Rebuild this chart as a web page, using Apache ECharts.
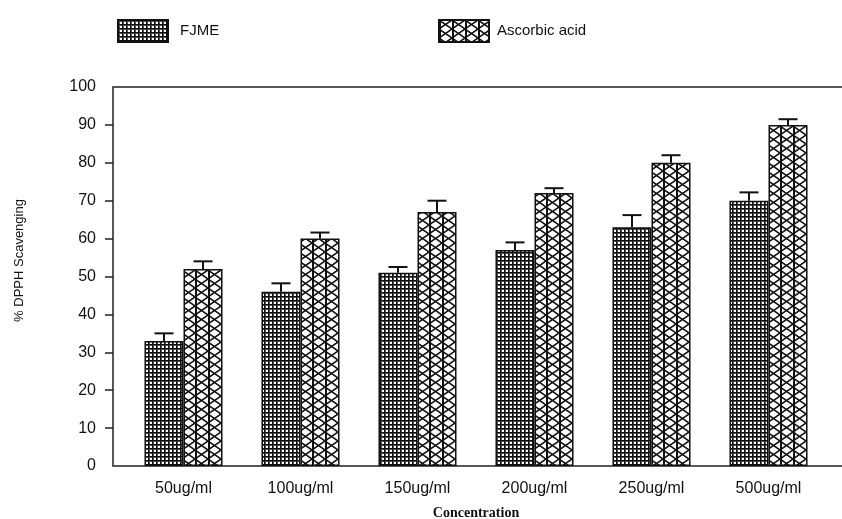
<!DOCTYPE html>
<html>
<head>
<meta charset="utf-8">
<script src="https://cdn.jsdelivr.net/npm/echarts@6/dist/echarts.min.js"></script>
<style>
  html, body { margin: 0; padding: 0; background: #fff; }
  #chart { width: 842px; height: 519px; }
</style>
</head>
<body>
<div id="chart"></div>
<script>
// data
const categories = ['50ug/ml', '100ug/ml', '150ug/ml', '200ug/ml', '250ug/ml', '500ug/ml'];
const fjme = [33, 46, 51, 57, 63, 70];
const fjmeErr = [2, 2.2, 1.5, 2, 3.2, 2.2];
const ascorbic = [52, 60, 67, 72, 80, 90];
const ascorbicErr = [2, 1.6, 3, 1.3, 2, 1.5];
const yTicks = [10, 20, 30, 40, 50, 60, 70, 80, 90];

// fill patterns
function gridPattern () {
    let c = document.createElement('canvas');
    c.width = 4; c.height = 4;
    let ctx = c.getContext('2d');
    ctx.fillStyle = '#fff';
    ctx.fillRect(0, 0, 4, 4);
    ctx.fillStyle = '#555';
    ctx.fillRect(0, 1, 4, 1);
    ctx.fillRect(1, 0, 1, 4);
    ctx.fillStyle = '#111';
    ctx.fillRect(0, 0, 4, 1);
    ctx.fillRect(0, 0, 1, 4);
    return c;
}
function crossPattern () {
    let w = 13, h = 9;
    let c = document.createElement('canvas');
    c.width = w; c.height = h;
    let ctx = c.getContext('2d');
    ctx.fillStyle = '#fff';
    ctx.fillRect(0, 0, w, h);
    ctx.strokeStyle = '#111';
    ctx.lineWidth = 1.5;
    ctx.beginPath();
    ctx.moveTo(0, 0); ctx.lineTo(w, h);
    ctx.moveTo(w, 0); ctx.lineTo(0, h);
    ctx.stroke();
    ctx.fillStyle = '#111';
    ctx.fillRect(0, 0, 2, h);
    return c;
}

function errorBars (vals, errs, side) {
    return {
        type: 'custom',
        xAxisIndex: 1,
        yAxisIndex: 1,
        z: 5,
        data: vals.map((v, i) => [i, v, errs[i]]),
        encode: { x: 0, y: 1 },
        renderItem (params, api) {
            let i = api.value(0), v = api.value(1), e = api.value(2);
            let band = api.size([1, 0])[0];
            let x = api.coord([i, 0])[0] + side * band / 6;
            let y0 = api.coord([i, v])[1];
            let y1 = api.coord([i, v + e])[1];
            let st = { stroke: '#111', lineWidth: 2 };
            return {
                type: 'group',
                children: [
                    { type: 'line', shape: { x1: x, y1: y0, x2: x, y2: y1 }, style: st },
                    { type: 'line', shape: { x1: x - 9.5, y1: y1, x2: x + 9.5, y2: y1 }, style: st }
                ]
            };
        }
    };
}

let myChart = echarts.init(document.getElementById('chart'));
const font = 'Liberation Sans, Arial, sans-serif';
myChart.setOption({
    animation: false,
    textStyle: { fontFamily: font, color: '#111' },
    legend: [
        {
            data: ['FJME'], icon: 'rect', left: 112, top: 14, itemWidth: 50, itemHeight: 22,
            textStyle: { fontSize: 15, color: '#111', padding: [0, 0, 0, 7] }
        },
        {
            data: ['Ascorbic acid'], icon: 'rect', left: 433, top: 14, itemWidth: 50, itemHeight: 22,
            textStyle: { fontSize: 15, color: '#111', padding: [0, 0, 0, 3] }
        }
    ],
    grid: [
        // frame only
        { left: 113, right: -10, top: 87, bottom: 53, show: true, borderColor: '#222', borderWidth: 1.5, outerBoundsMode: 'none' },
        // data
        { left: 125, width: 702, top: 87, bottom: 53, outerBoundsMode: 'none' }
    ],
    xAxis: [
        { gridIndex: 0, type: 'value', show: false },
        {
            gridIndex: 1,
            type: 'category',
            data: categories,
            axisLine: { show: false },
            axisTick: { show: false },
            axisLabel: { fontSize: 16, color: '#111', margin: 15 },
            name: 'Concentration',
            nameLocation: 'middle',
            nameGap: 40,
            nameTextStyle: { fontFamily: 'Liberation Serif, Times New Roman, serif', fontWeight: 'bold', fontSize: 14, color: '#111' }
        }
    ],
    yAxis: [
        { gridIndex: 0, type: 'value', show: false },
        {
            gridIndex: 1,
            type: 'value',
            min: 0,
            max: 100,
            interval: 10,
            offset: 12,
            axisLine: { show: false },
            axisTick: { show: true, length: 8, customValues: yTicks, lineStyle: { color: '#222', width: 1.5 } },
            axisLabel: { fontSize: 16, color: '#111', margin: 17 },
            splitLine: { show: false },
            name: '% DPPH Scavenging',
            nameLocation: 'middle',
            nameRotate: 90,
            nameGap: 87,
            nameTextStyle: { fontSize: 13, color: '#111', padding: [0, 0, 0, 32] }
        }
    ],
    series: [
        {
            name: 'FJME',
            type: 'bar',
            xAxisIndex: 1,
            yAxisIndex: 1,
            data: fjme,
            barGap: '0%',
            barCategoryGap: '33.3%',
            itemStyle: { color: { image: gridPattern(), repeat: 'repeat' }, borderColor: '#111', borderWidth: 1.5 }
        },
        {
            name: 'Ascorbic acid',
            type: 'bar',
            xAxisIndex: 1,
            yAxisIndex: 1,
            data: ascorbic,
            itemStyle: { color: { image: crossPattern(), repeat: 'repeat' }, borderColor: '#111', borderWidth: 1.5 }
        },
        errorBars(fjme, fjmeErr, -1),
        errorBars(ascorbic, ascorbicErr, 1)
    ]
});
</script>
</body>
</html>
